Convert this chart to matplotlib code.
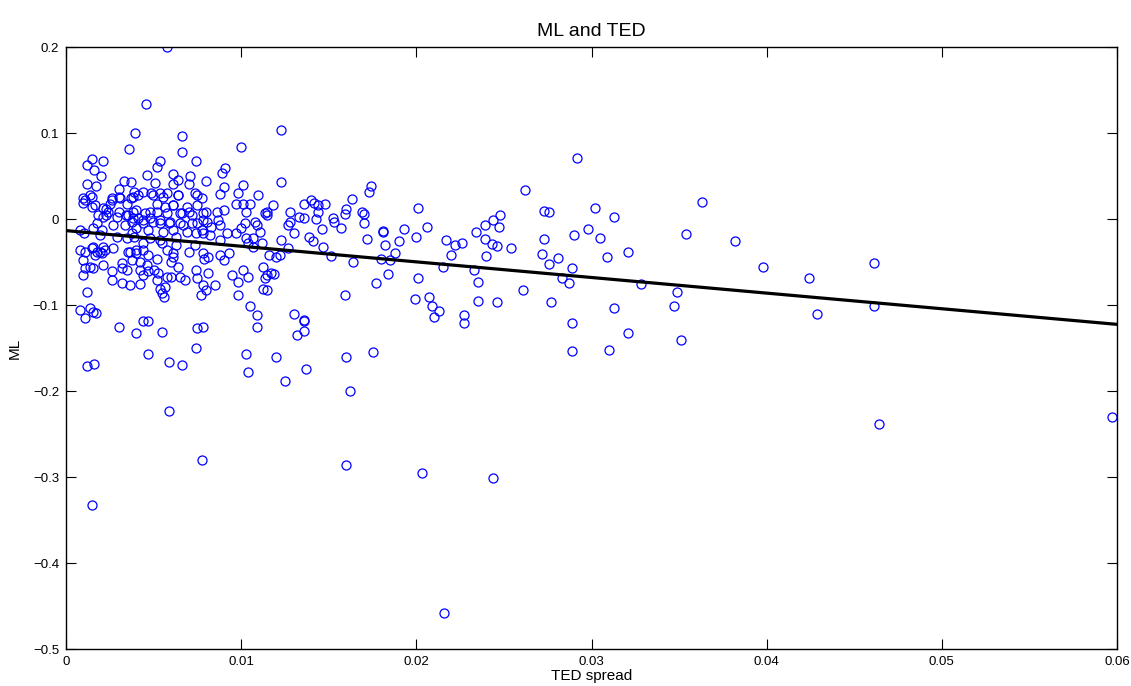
import numpy as np
import matplotlib
matplotlib.use("Agg")
import matplotlib.pyplot as plt

plt.rcParams["font.family"] = ["Liberation Sans", "DejaVu Sans"]

# (TED spread, ML) pairs, grouped by region
left_cluster = [
    (0.00578, 0.1997), (0.00458, 0.1333), (0.00392, 0.0996), (0.00662, 0.0965),
    (0.0036, 0.081), (0.00662, 0.078), (0.0015, 0.0698), (0.00209, 0.0674),
    (0.00122, 0.0624), (0.00162, 0.0573), (0.00538, 0.0678), (0.00519, 0.0608),
    (0.0074, 0.0678), (0.0020, 0.0503), (0.0046, 0.0508), (0.0061, 0.052),
    (0.0071, 0.0496), (0.00122, 0.0407), (0.0017, 0.0387), (0.0033, 0.0445),
    (0.0037, 0.0426), (0.0051, 0.0415), (0.0064, 0.0453), (0.0061, 0.0407),
    (0.0070, 0.0407), (0.0030, 0.0349), (0.0039, 0.0318), (0.0044, 0.031),
    (0.00485, 0.0306), (0.00537, 0.0306), (0.00575, 0.0298), (0.00639, 0.0275),
    (0.00738, 0.0298), (0.0026, 0.024), (0.0031, 0.025), (0.0037, 0.025),
    (0.0041, 0.028), (0.00137, 0.0275), (0.00099, 0.024),
    (0.00099, 0.019), (0.00147, 0.014), (0.0025, 0.018), (0.0023, 0.012),
    (0.0018, 0.0047), (0.0021, 0.0027), (0.0024, 0.0085), (0.0030, 0.0085),
    (0.00345, 0.0047), (0.00384, 0.0085), (0.0041, 0.001), (0.0045, 0.0066),
    (0.0044, -0.005), (0.0048, 0.001), (0.0052, 0.0085), (0.00537, -0.001),
    (0.00575, 0.0066), (0.0061, 0.016), (0.0059, -0.005), (0.0065, 0.0066),
    (0.0070, 0.0085), (0.0067, -0.007), (0.0072, -0.005), (0.0074, -0.0166),
    (0.0008, -0.0128), (0.0010, -0.0166), (0.00156, -0.0108), (0.00194, -0.0186),
    (0.0029, -0.0206), (0.00346, -0.0224), (0.0039, -0.0206), (0.0048, -0.0224),
    (0.00537, -0.0244), (0.0063, -0.0206), (0.0008, -0.036), (0.00108, -0.038),
    (0.00147, -0.034), (0.00175, -0.038), (0.00213, -0.032), (0.00166, -0.042),
    (0.00204, -0.040), (0.00223, -0.036), (0.00099, -0.048), (0.00137, -0.0555),
    (0.00108, -0.057), (0.00099, -0.065), (0.00156, -0.057), (0.00213, -0.0535),
    (0.0026, -0.061), (0.00365, -0.038), (0.0040, -0.040), (0.0044, -0.036),
    (0.0047, -0.042), (0.00375, -0.048), (0.0042, -0.050), (0.0046, -0.0535),
    (0.0052, -0.046), (0.00575, -0.036), (0.0061, -0.044), (0.0060, -0.050),
    (0.0064, -0.0555), (0.0032, -0.0515), (0.0032, -0.057), (0.00346, -0.059),
    (0.0042, -0.059), (0.0044, -0.065), (0.0047, -0.061), (0.0050, -0.059),
    (0.00527, -0.063), (0.00575, -0.067), (0.0060, -0.067), (0.0065, -0.067),
    (0.0068, -0.071), (0.0074, -0.059), (0.00746, -0.069), (0.0052, -0.071),
    (0.0026, -0.071), (0.0032, -0.074), (0.00365, -0.077), (0.0042, -0.075),
    (0.00537, -0.081), (0.00565, -0.079), (0.00546, -0.086), (0.0056, -0.091),
    (0.00122, -0.0845), (0.0008, -0.106), (0.00137, -0.104), (0.00108, -0.115),
    (0.00156, -0.108), (0.0017, -0.109), (0.0030, -0.126), (0.0040, -0.133),
    (0.0044, -0.119), (0.0047, -0.119), (0.0055, -0.131), (0.0047, -0.157),
    (0.00746, -0.127), (0.0074, -0.150),
    (0.00384, 0.026), (0.00498, 0.028), (0.00555, 0.026), (0.0064, 0.028),
    (0.00746, 0.028), (0.00774, 0.024), (0.00518, 0.018), (0.00565, 0.014),
    (0.0061, 0.016), (0.0069, 0.014), (0.00746, 0.016), (0.0040, 0.0105),
    (0.0048, 0.0085), (0.0066, 0.0066), (0.0072, 0.0047), (0.00784, 0.0066),
    (0.00384, 0.001), (0.0044, -0.001), (0.00498, -0.003), (0.00537, -0.005),
    (0.00594, -0.003), (0.0065, -0.005), (0.00746, -0.005), (0.00803, -0.003),
    (0.0040, -0.0108), (0.0047, -0.0128), (0.00555, -0.0148), (0.0061, -0.0128),
    (0.0069, -0.0148), (0.00774, -0.0128), (0.0044, -0.028), (0.00546, -0.028),
    (0.0063, -0.030), (0.00736, -0.030), (0.0040, -0.036), (0.0061, -0.040),
    (0.0070, -0.038), (0.00784, -0.040),
    (0.00108, 0.022), (0.00147, 0.026), (0.00166, 0.016), (0.00213, 0.0124),
    (0.0026, 0.022), (0.0030, 0.026), (0.00346, 0.018), (0.0023, 0.0047),
    (0.0029, 0.0027), (0.00356, 0.0047), (0.00375, -0.003), (0.00337, -0.007),
    (0.0027, -0.007), (0.00175, -0.005), (0.00204, -0.0128), (0.00375, -0.0166),
    (0.00156, -0.032), (0.00194, -0.038), (0.00356, -0.038), (0.0027, -0.034),
]

mid_cluster = [
    (0.01229, 0.1038), (0.00999, 0.0833), (0.0091, 0.0593), (0.0089, 0.054),
    (0.00799, 0.0438), (0.0090, 0.0372), (0.01008, 0.039), (0.01229, 0.0434),
    (0.0088, 0.0294), (0.0098, 0.030), (0.01098, 0.028),
    (0.0097, 0.0174), (0.0101, 0.018), (0.0105, 0.018), (0.0103, 0.0085),
    (0.0118, 0.016), (0.0080, 0.0085), (0.0086, 0.0085), (0.0090, 0.0105),
    (0.0078, -0.001), (0.0087, -0.001), (0.0088, -0.007), (0.0083, -0.009),
    (0.0092, -0.016), (0.0078, -0.0166), (0.0082, -0.0186), (0.0088, -0.0244),
    (0.0097, -0.0166), (0.0100, -0.0108), (0.0102, -0.005), (0.0108, -0.003),
    (0.0109, -0.007), (0.01107, -0.0148), (0.01136, 0.0066), (0.01145, 0.0085),
    (0.0115, 0.0047), (0.0103, -0.0224), (0.0107, -0.0224), (0.0104, -0.028),
    (0.0107, -0.032), (0.0112, -0.028), (0.0128, 0.0085), (0.0128, -0.003),
    (0.0127, -0.007), (0.0133, 0.0027), (0.0130, -0.0166), (0.0123, -0.0244),
    (0.0127, -0.034), (0.0122, -0.042), (0.0116, -0.042), (0.0120, -0.044),
    (0.0079, -0.046), (0.0081, -0.044), (0.0090, -0.048), (0.0093, -0.040),
    (0.0088, -0.042), (0.0081, -0.063), (0.0078, -0.077), (0.0080, -0.083),
    (0.0077, -0.088), (0.0085, -0.077), (0.0095, -0.065), (0.0101, -0.059),
    (0.0104, -0.067), (0.0098, -0.073), (0.0098, -0.088), (0.01126, -0.0555),
    (0.01136, -0.069), (0.0115, -0.065), (0.0117, -0.063), (0.0119, -0.064),
    (0.01126, -0.081), (0.01145, -0.083), (0.0105, -0.101), (0.0109, -0.112),
    (0.0109, -0.125), (0.0130, -0.110), (0.0136, -0.119), (0.0136, -0.130),
    (0.0132, -0.135), (0.0078, -0.126), (0.0103, -0.157), (0.0120, -0.160),
    (0.0136, 0.017), (0.01415, 0.019), (0.0140, 0.0224), (0.0144, 0.016),
    (0.0148, 0.018), (0.0144, 0.0085), (0.0143, -0.0004), (0.0136, 0.001),
    (0.01526, 0.001), (0.0153, -0.003), (0.0146, -0.0116), (0.0139, -0.0206),
    (0.0141, -0.025), (0.0147, -0.033), (0.0151, -0.043), (0.0136, -0.117),
]

mid_spread = [
    (0.01739, 0.0387), (0.01731, 0.0318), (0.0163, 0.0229), (0.01598, 0.0116),
    (0.0159, 0.0062), (0.0169, 0.0078), (0.0170, 0.0062), (0.0170, -0.0047),
    (0.0157, -0.0108), (0.0201, 0.0131), (0.0262, 0.0333), (0.0273, 0.009),
    (0.0276, 0.0078), (0.0181, -0.014), (0.0181, -0.0155), (0.0172, -0.0236),
    (0.0193, -0.012), (0.0206, -0.0097), (0.0200, -0.0206), (0.0190, -0.0256),
    (0.0182, -0.030), (0.0188, -0.040), (0.0180, -0.047), (0.0185, -0.048),
    (0.0164, -0.050), (0.0217, -0.0248), (0.0222, -0.030), (0.0226, -0.0275),
    (0.0220, -0.0415), (0.0215, -0.0558), (0.0234, -0.0151), (0.0239, -0.007),
    (0.0244, -0.0015), (0.0248, 0.005), (0.0247, -0.009), (0.0239, -0.0229),
    (0.0243, -0.0287), (0.0246, -0.031), (0.0254, -0.0333), (0.0240, -0.0434),
    (0.0233, -0.059), (0.0235, -0.0736), (0.0273, -0.0236), (0.0272, -0.041),
    (0.0276, -0.052), (0.0261, -0.083), (0.0277, -0.0965), (0.0246, -0.097),
    (0.0235, -0.0957), (0.0201, -0.069), (0.0177, -0.0748), (0.0184, -0.064),
    (0.0159, -0.0887), (0.0199, -0.093), (0.0207, -0.091), (0.0209, -0.101),
    (0.0213, -0.107), (0.0210, -0.114), (0.0227, -0.112), (0.0227, -0.121),
    (0.0160, -0.161), (0.0175, -0.155),
]

right_tail = [
    (0.0292, 0.0706), (0.0302, 0.0128), (0.0313, 0.002), (0.0298, -0.0116),
    (0.0290, -0.019), (0.0305, -0.0225), (0.0363, 0.020), (0.0354, -0.0174),
    (0.0382, -0.025), (0.0309, -0.0446), (0.0321, -0.038), (0.0289, -0.057),
    (0.0281, -0.045), (0.0398, -0.056), (0.0283, -0.069), (0.0287, -0.0745),
    (0.0328, -0.076), (0.0349, -0.085), (0.0347, -0.101), (0.0313, -0.104),
    (0.0289, -0.121), (0.0321, -0.1326), (0.0351, -0.1407), (0.0289, -0.153),
    (0.0310, -0.152), (0.0424, -0.069), (0.0461, -0.051), (0.0429, -0.110),
    (0.0461, -0.101), (0.0464, -0.238), (0.0597, -0.230),
]

low_outliers = [
    (0.00118, -0.1706), (0.0016, -0.1686), (0.0059, -0.166), (0.0066, -0.170),
    (0.0104, -0.178), (0.0125, -0.188), (0.0137, -0.174), (0.0162, -0.1997),
    (0.0059, -0.2237), (0.00778, -0.2806), (0.0160, -0.2857), (0.0203, -0.2957),
    (0.0244, -0.3015), (0.0015, -0.332), (0.0216, -0.4585),
]

# least-squares line as drawn in the reference
fit_intercept = -0.0135
fit_slope = -1.817

x_ticks = [0, 0.01, 0.02, 0.03, 0.04, 0.05, 0.06]
x_tick_labels = ["0", "0.01", "0.02", "0.03", "0.04", "0.05", "0.06"]
y_ticks = [-0.5, -0.4, -0.3, -0.2, -0.1, 0, 0.1, 0.2]
y_tick_labels = ["\u22120.5", "\u22120.4", "\u22120.3", "\u22120.2", "\u22120.1", "0", "0.1", "0.2"]

pts = np.array(left_cluster + mid_cluster + mid_spread + right_tail + low_outliers)
ted, ml = pts[:, 0], pts[:, 1]

fig = plt.figure(figsize=(11.31, 6.86), dpi=100)
ax = fig.add_axes([66 / 1131, 37 / 686, 1051 / 1131, 602 / 686])

ax.plot(ted, ml, "o", mfc="none", mec="blue", ms=6.5, mew=0.9, ls="none")
xl = np.array([0, 0.06])
ax.plot(xl, fit_intercept + fit_slope * xl, color="black", lw=2.3)

ax.set_xlim(0, 0.06)
ax.set_ylim(-0.5, 0.2)
ax.set_xticks(x_ticks)
ax.set_xticklabels(x_tick_labels)
ax.set_yticks(y_ticks)
ax.set_yticklabels(y_tick_labels)
ax.tick_params(direction="in", length=7, width=0.8, top=True, right=True,
               labelsize=9.5, pad=5)
for s in ax.spines.values():
    s.set_linewidth(1.0)

ax.set_title("ML and TED", fontsize=14, pad=8)
ax.set_xlabel("TED spread", fontsize=11, labelpad=1)
ax.set_ylabel("ML", fontsize=11, labelpad=8)

fig.savefig("out.png", dpi=100)
